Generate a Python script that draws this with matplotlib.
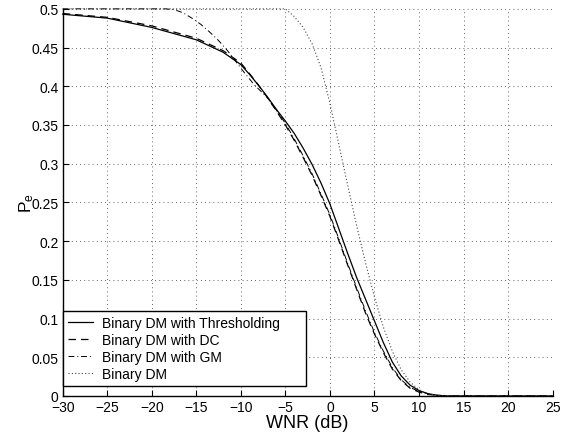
import matplotlib
matplotlib.use("Agg")
import matplotlib.pyplot as plt

plt.rcParams['font.family'] = ['Liberation Sans', 'DejaVu Sans']
plt.rcParams['mathtext.default'] = 'regular'

# WNR (dB) sample positions and Pe values
wnr_thr = [-30, -25, -20, -15, -12, -10, -9, -8, -7, -6, -5, -4, -3, -2, -1, 0, 1, 2, 3, 4, 5, 6, 7, 8, 9, 10, 11, 12, 13, 15, 20, 25]
pe_thr = [0.493, 0.488, 0.476, 0.460, 0.444, 0.428, 0.415, 0.401, 0.386, 0.370, 0.355, 0.339, 0.320, 0.299, 0.275, 0.248, 0.216, 0.184, 0.153, 0.125, 0.097, 0.069, 0.044, 0.026, 0.014, 0.007, 0.003, 0.001, 0.0, 0.0, 0.0, 0.0]

wnr_dc = [-30, -25, -20, -15, -12, -10, -9, -8, -7, -6, -5, -4, -3, -2, -1, 0, 1, 2, 3, 4, 5, 6, 7, 8, 9, 10, 11, 12, 13, 15, 20, 25]
pe_dc = [0.494, 0.489, 0.478, 0.462, 0.446, 0.430, 0.416, 0.401, 0.385, 0.368, 0.350, 0.330, 0.308, 0.285, 0.259, 0.232, 0.201, 0.169, 0.138, 0.107, 0.080, 0.056, 0.035, 0.020, 0.010, 0.005, 0.002, 0.001, 0.0, 0.0, 0.0, 0.0]

wnr_gm = [-30, -25, -20, -18.5, -17.5, -16.5, -15.5, -14.5, -13.5, -12.5, -11.5, -10.5, -9.5, -8.5, -7, -6, -5, -4, -3, -2, -1, 0, 1, 2, 3, 4, 5, 6, 7, 8, 9, 10, 11, 12, 13, 15, 20, 25]
pe_gm = [0.5, 0.5, 0.5, 0.5, 0.499, 0.495, 0.488, 0.480, 0.470, 0.459, 0.446, 0.431, 0.416, 0.402, 0.385, 0.369, 0.352, 0.332, 0.310, 0.287, 0.261, 0.234, 0.203, 0.171, 0.140, 0.110, 0.082, 0.058, 0.037, 0.021, 0.011, 0.006, 0.003, 0.001, 0.0, 0.0, 0.0, 0.0]

wnr_dm = [-30, -20, -10, -5, -4, -3, -2, -1, 0, 1, 2, 3, 4, 5, 6, 7, 8, 9, 10, 11, 12, 13, 15, 20, 25]
pe_dm = [0.5, 0.5, 0.5, 0.5, 0.490, 0.476, 0.455, 0.424, 0.378, 0.325, 0.272, 0.220, 0.172, 0.128, 0.089, 0.058, 0.034, 0.018, 0.008, 0.003, 0.001, 0.0, 0.0, 0.0, 0.0]

labels = ["Binary DM with Thresholding", "Binary DM with DC", "Binary DM with GM", "Binary DM"]
xticks = [-30, -25, -20, -15, -10, -5, 0, 5, 10, 15, 20, 25]
yticks = [0, 0.05, 0.1, 0.15, 0.2, 0.25, 0.3, 0.35, 0.4, 0.45, 0.5]
ytick_labels = ["0", "0.05", "0.1", "0.15", "0.2", "0.25", "0.3", "0.35", "0.4", "0.45", "0.5"]

fig = plt.figure(figsize=(5.65, 4.35), dpi=100)
ax = fig.add_axes([0.111, 0.0874, 0.867, 0.890])

ax.plot(wnr_thr, pe_thr, '-', color='black', lw=0.9, label=labels[0], clip_on=False)
ax.plot(wnr_dc, pe_dc, color='black', lw=0.9, linestyle=(0, (6, 4)), label=labels[1], clip_on=False)
ax.plot(wnr_gm, pe_gm, color='black', lw=0.7, linestyle=(0, (6, 3, 1, 3)), label=labels[2], clip_on=False)
ax.plot(wnr_dm, pe_dm, color='#444444', lw=0.8, linestyle=(0, (1, 2)), label=labels[3], clip_on=False)

ax.set_xlim(-30, 25)
ax.set_ylim(0, 0.5)
ax.set_xticks(xticks)
ax.set_yticks(yticks)
ax.set_yticklabels(ytick_labels)
ax.tick_params(direction='in', length=4, width=0.8, labelsize=10, pad=3)

ax.grid(True, linestyle=(0, (1, 4)), color='black', lw=0.6, alpha=0.8)
ax.spines['top'].set_visible(False)
ax.spines['right'].set_visible(False)
for s in ('left', 'bottom'):
    ax.spines[s].set_linewidth(1.0)

ax.set_xlabel("WNR (dB)", fontsize=13, labelpad=0)
ax.set_ylabel(r"P$_{e}$", fontsize=12.5, labelpad=-3)

leg = ax.legend(loc='lower left', bbox_to_anchor=(0.0, 0.027, 0.4965, 0.14), mode='expand',
                borderaxespad=0, fontsize=10, frameon=True, fancybox=False,
                edgecolor='black', framealpha=1, handlelength=1.8, handletextpad=0.7,
                labelspacing=0.2, borderpad=0.35)
leg.get_frame().set_linewidth(1.0)

fig.savefig("out.png", dpi=100)
